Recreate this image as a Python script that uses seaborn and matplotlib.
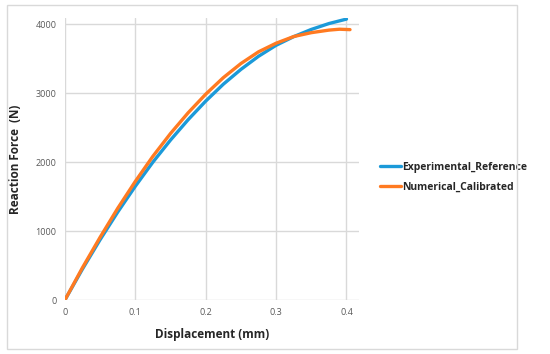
import numpy as np
import pandas as pd
import matplotlib
matplotlib.use("Agg")
import matplotlib.pyplot as plt
import seaborn as sns
from matplotlib.patches import Rectangle

# --- values ---
disp_exp = [0, 0.025, 0.05, 0.075, 0.1, 0.125, 0.15, 0.175, 0.2, 0.225,
            0.25, 0.275, 0.3, 0.325, 0.35, 0.375, 0.4]
force_exp = [0, 450, 875, 1275, 1650, 2000, 2320, 2615, 2885, 3130,
             3345, 3535, 3695, 3820, 3925, 4010, 4075]

disp_num = [0, 0.025, 0.05, 0.075, 0.1, 0.125, 0.15, 0.175, 0.2, 0.225,
            0.25, 0.275, 0.3, 0.325, 0.35, 0.375, 0.39, 0.405]
force_num = [0, 470, 910, 1330, 1720, 2085, 2415, 2715, 2985, 3225,
             3430, 3600, 3725, 3822, 3878, 3915, 3928, 3922]

series_names = ["Experimental_Reference", "Numerical_Calibrated"]
colors = ["#1b9ad9", "#ff7a21"]

df = pd.concat([
    pd.DataFrame({"Displacement": disp_exp, "Force": force_exp, "Series": series_names[0]}),
    pd.DataFrame({"Displacement": disp_num, "Force": force_num, "Series": series_names[1]}),
])

sns.set_style("whitegrid", {"grid.color": "#d9d9d9"})
plt.rcParams['font.family'] = ['Open Sans', 'DejaVu Sans']

fig = plt.figure(figsize=(5.5, 3.54), dpi=100)
ax = fig.add_axes([0.118, 0.1525, 0.535, 0.7965])

sns.lineplot(data=df, x="Displacement", y="Force", hue="Series", palette=colors,
             linewidth=2.4, sort=False, ax=ax, estimator=None)

ax.set_xlim(0, 0.418)
ax.set_ylim(0, 4090)
ax.set_xticks([0, 0.1, 0.2, 0.3, 0.4])
ax.set_xticklabels(["0", "0.1", "0.2", "0.3", "0.4"])
ax.set_yticks([0, 1000, 2000, 3000, 4000])
ax.tick_params(axis="both", labelsize=6.5, labelcolor="#595959", length=0, pad=6)
for s in ax.spines.values():
    s.set_visible(False)
ax.grid(True, color="#d9d9d9", linewidth=1)

ax.set_xlabel("Displacement (mm)", fontsize=8.5, fontweight="bold", labelpad=8)
ax.set_ylabel("Reaction Force  (N)", fontsize=8.5, fontweight="bold", labelpad=10)

leg = ax.legend(loc="center left", bbox_to_anchor=(1.04, 0.435), frameon=False,
                fontsize=7.5, handlelength=2.0, handletextpad=0.1, labelspacing=0.9)
for t in leg.get_texts():
    t.set_fontweight("bold")

# outer chart border
fig.patches.append(Rectangle((7 / 550, 5 / 354), 510 / 550, 344 / 354,
                             transform=fig.transFigure, fill=False,
                             edgecolor="#d9d9d9", linewidth=1))

fig.savefig("out.png", dpi=100)
